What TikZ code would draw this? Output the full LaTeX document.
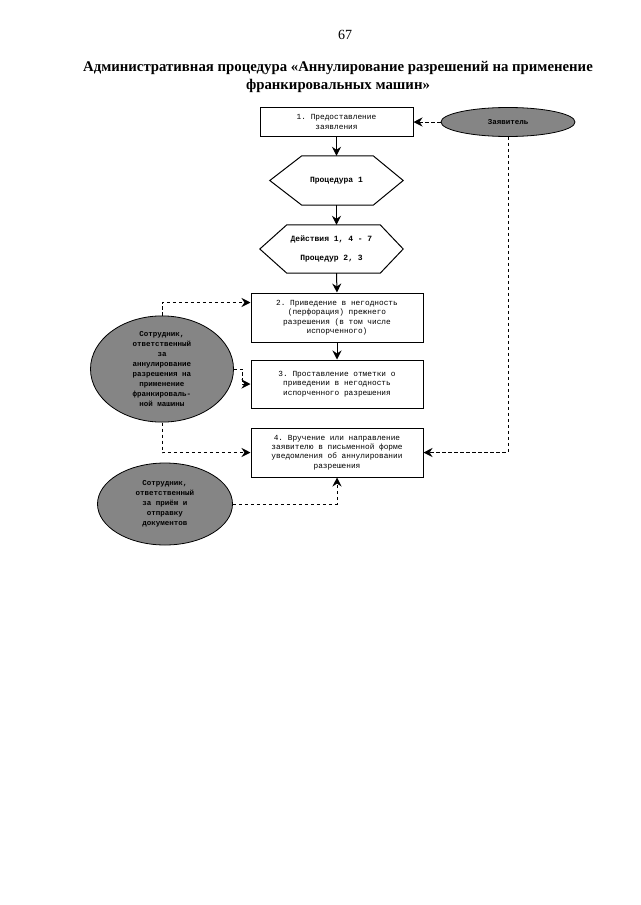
\documentclass[tikz,border=0pt]{standalone}
\usepackage{fontspec}
\setmainfont{Liberation Serif}
\setmonofont{Liberation Mono}
\usetikzlibrary{arrows.meta,calc,shapes.geometric}
\begin{document}
\begin{tikzpicture}[x=1pt,y=-1pt,
  box/.style={draw, line width=1pt, rectangle, align=center, inner sep=1pt,
    font=\fontsize{7.8}{9.4}\selectfont\ttfamily},
  hexbb/.style={rectangle, inner sep=0pt, align=center,
    font=\fontsize{8}{9.5}\selectfont\ttfamily\bfseries},
  oval/.style={ellipse, draw, line width=0.8pt, fill=black!48, inner sep=0pt, align=center,
    font=\fontsize{7.5}{10}\selectfont\ttfamily\bfseries},
  solidarrow/.style={line width=1pt, -{Stealth[length=9pt,width=9pt,inset=3pt]}},
  dasharrow/.style={line width=0.9pt, dash pattern=on 3.5pt off 2.5pt,
    -{Stealth[length=9pt,width=9pt,inset=3pt]}},
  hexline/.style={line width=1pt}
]
\useasboundingbox (0,0) rectangle (640,905);
\fill[white] (0,0) rectangle (640,905);

% header
\node[font=\fontsize{14}{16}\selectfont] (pg) at (345,35) {67};
\node[font=\fontsize{14.8}{18}\selectfont\bfseries, align=center] (title) at (338,77)
  {Административная процедура «Аннулирование разрешений на применение\\
   франкировальных машин»};

% boxes
\node[box, minimum width=153, minimum height=29] (b1) at (336.5,122)
  {1. Предоставление\\заявления};
\node[hexbb, minimum width=133, minimum height=49] (h1) at (336.5,180.5)
  {Процедура 1};
\node[hexbb, minimum width=143, minimum height=48] (h2) at (331.5,249)
  {Действия 1, 4 - 7\\[9pt]Процедур 2, 3};
\node[box, minimum width=172, minimum height=49] (b2) at (337,317.5)
  {2. Приведение в негодность\\(перфорация) прежнего\\разрешения (в том числе\\испорченного)};
\node[box, minimum width=172, minimum height=48] (b3) at (337,384)
  {\raisebox{5pt}{\begin{tabular}{@{}c@{}}3. Проставление отметки о\\приведении в негодность\\испорченного разрешения\end{tabular}}};
\node[box, minimum width=172, minimum height=49] (b4) at (337,452.5)
  {4. Вручение или направление\\заявителю в письменной форме\\уведомления об аннулировании\\разрешения};

% hexagon outlines
\draw[hexline] (h1.west) -- ($(h1.north west)+(32,0)$) -- ($(h1.north east)+(-30,0)$)
  -- (h1.east) -- ($(h1.south east)+(-30,0)$) -- ($(h1.south west)+(32,0)$) -- cycle;
\draw[hexline] (h2.west) -- ($(h2.north west)+(27,0)$) -- ($(h2.north east)+(-23,0)$)
  -- (h2.east) -- ($(h2.south east)+(-23,0)$) -- ($(h2.south west)+(27,0)$) -- cycle;

% ovals
\node[oval, minimum width=134, minimum height=29] (zv) at (508,122) {Заявитель};
\node[oval, minimum width=143, minimum height=104] (e1) at (162,369)
  {Сотрудник,\\ответственный\\за\\аннулирование\\разрешения на\\применение\\франкироваль-\\ной машины};
\node[oval, minimum width=135, minimum height=82] (e2) at (165,504)
  {Сотрудник,\\ответственный\\за приём и\\отправку\\документов};

% solid flow
\draw[solidarrow] (b1.south) -- (b1.south |- h1.north);
\draw[solidarrow] (b1.south |- h1.south) -- (b1.south |- h2.north);
\draw[solidarrow] (b1.south |- h2.south) -- (b2.north);
\draw[solidarrow] (b2.south) -- (b3.north);

% dashed connectors
\draw[dasharrow] (zv.west) -- (b1.east);
\draw[dasharrow] (zv.south) |- (b4.east);
\draw[dasharrow] (e1.north) |- ($(b2.north west)!0.2!(b2.south west)$);
\draw[dasharrow] (e1.east) -- ++(9,0) |- (b3.west);
\draw[dasharrow] (e1.south) |- (b4.west);
\draw[dasharrow] (e2.east) -| (b4.south);
\end{tikzpicture}
\end{document}
